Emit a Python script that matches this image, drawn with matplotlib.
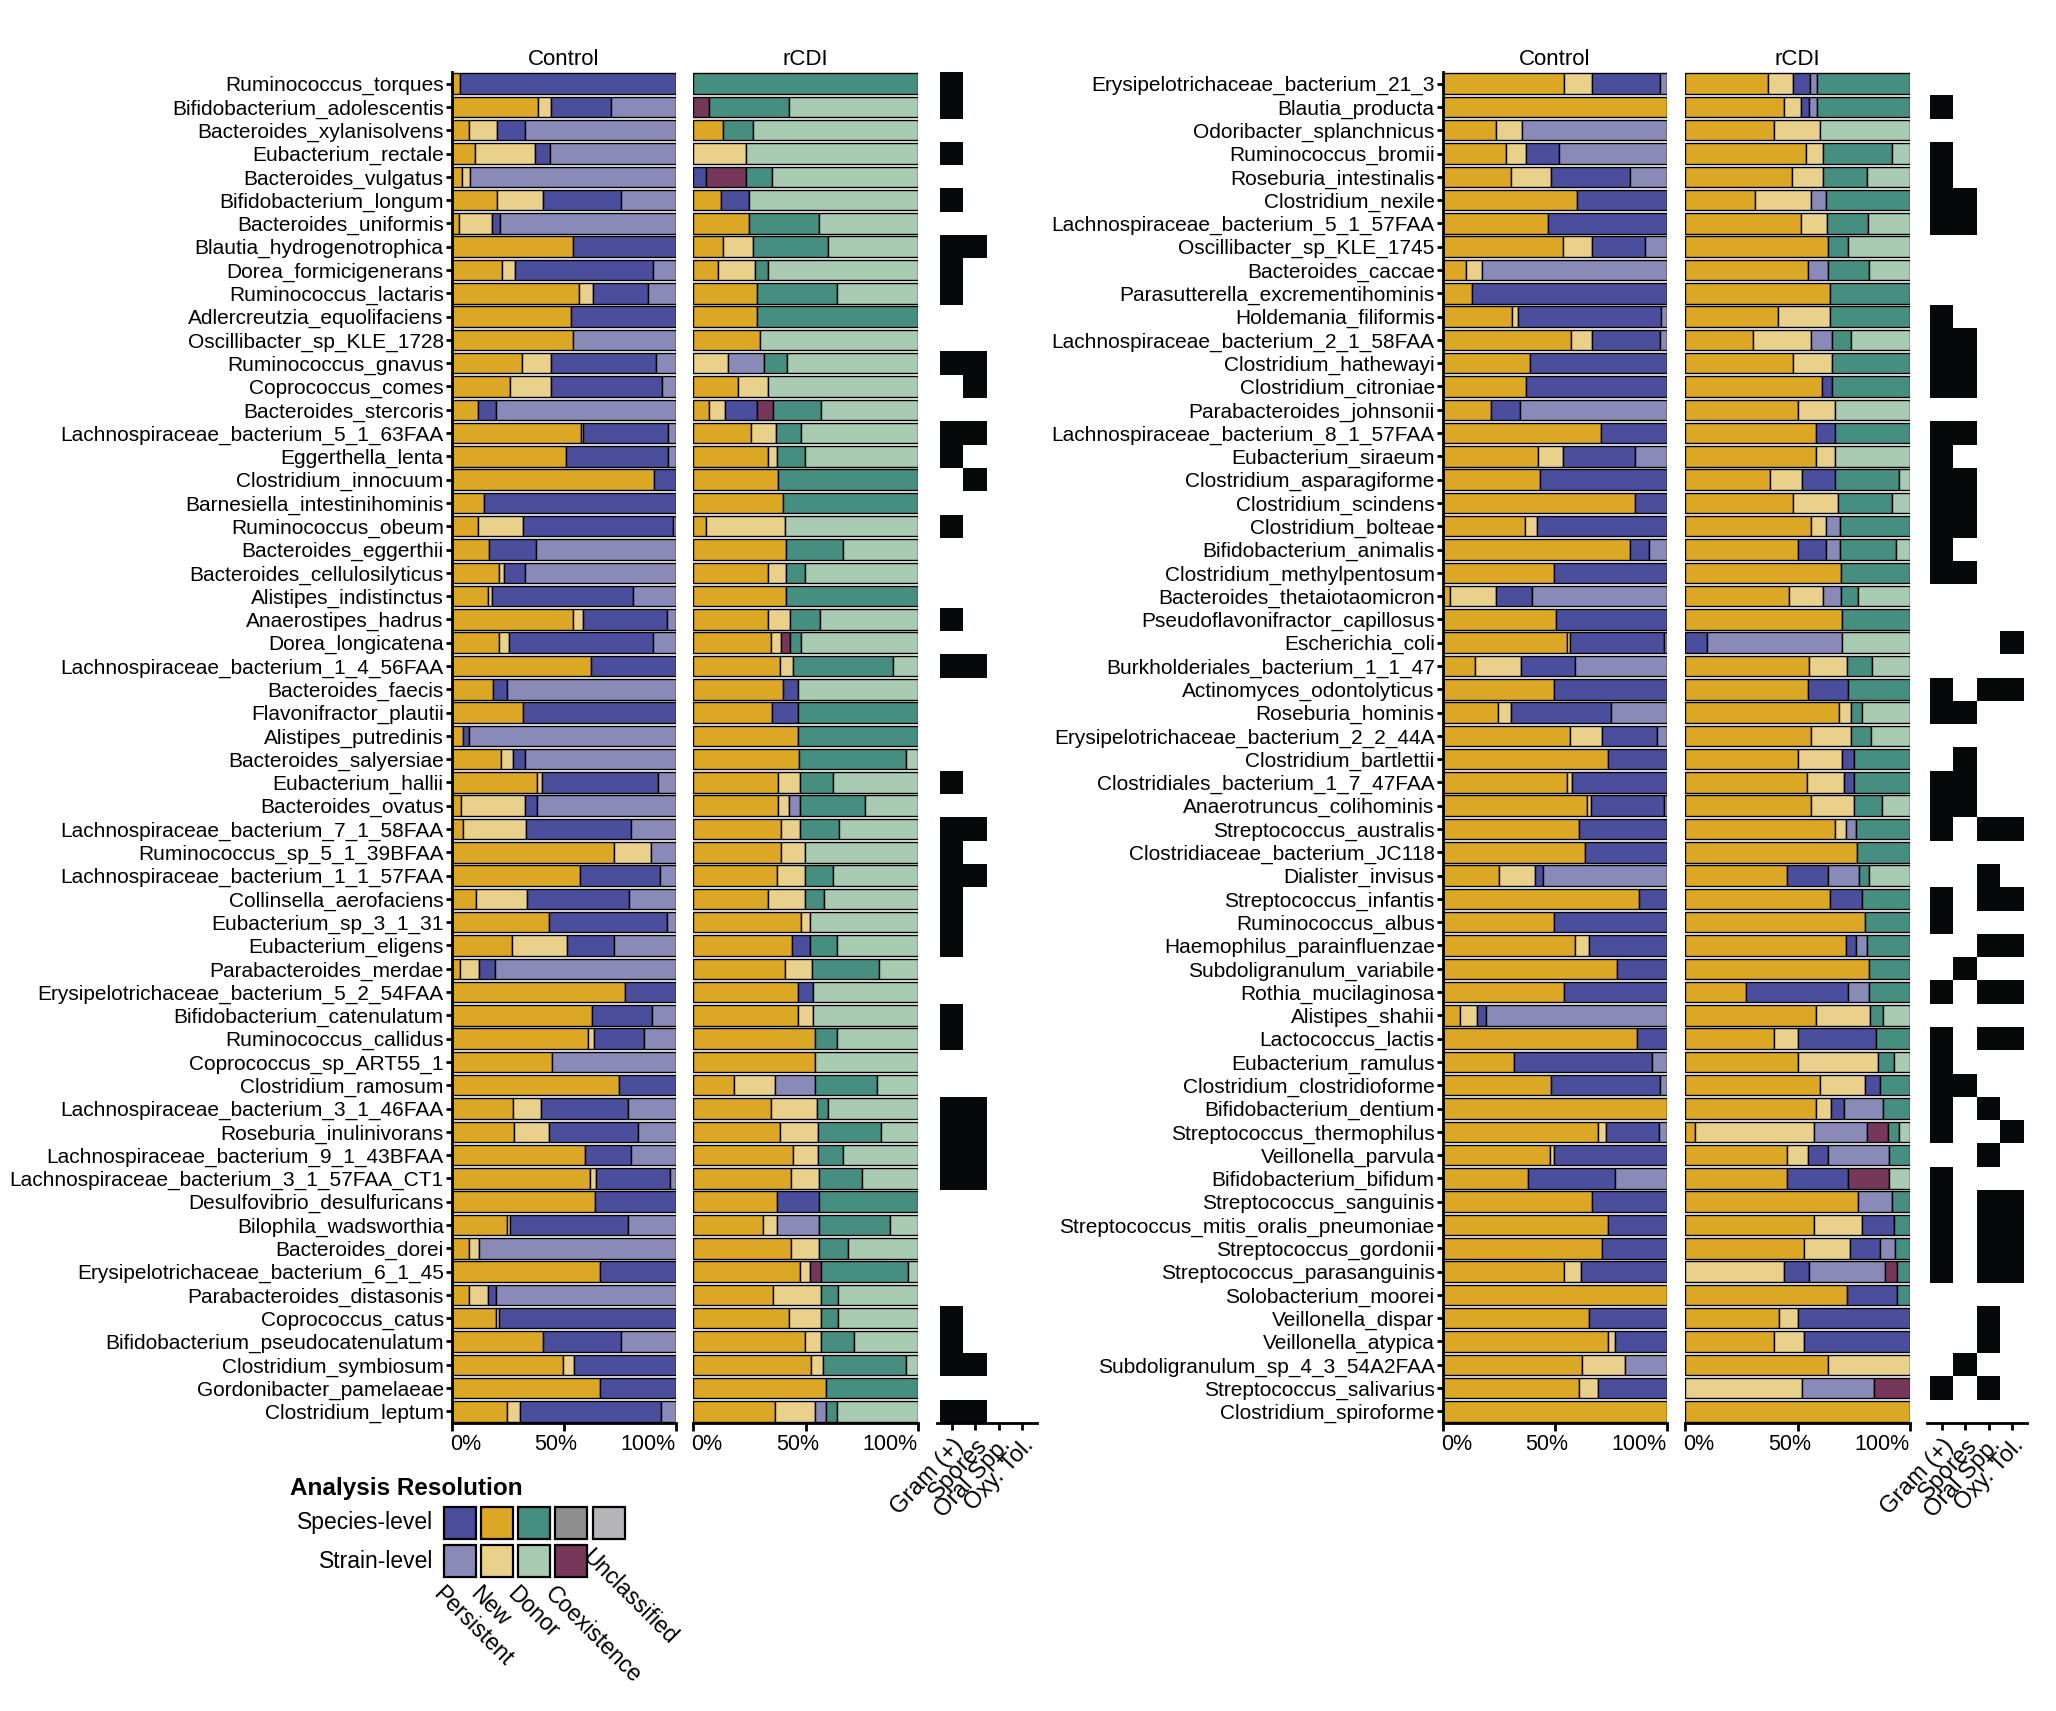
import numpy as np
import matplotlib
matplotlib.use("Agg")
import matplotlib.pyplot as plt
from matplotlib.colors import ListedColormap
from matplotlib.patches import Rectangle
from matplotlib.transforms import ScaledTranslation

plt.rcParams["font.family"] = ["Liberation Sans", "DejaVu Sans"]

# segment order in every bar (left -> right)
control_segments = ["New", "New (strain)", "Persistent", "Persistent (strain)"]
rcdi_segments = ["New", "New (strain)", "Persistent", "Persistent (strain)",
                 "Coexistence (strain)", "Donor", "Donor (strain)"]
heat_cols = ["Gram (+)", "Spores", "Oral Spp.", "Oxy. Tol."]

left_names = [
    "Ruminococcus_torques", "Bifidobacterium_adolescentis", "Bacteroides_xylanisolvens",
    "Eubacterium_rectale", "Bacteroides_vulgatus", "Bifidobacterium_longum",
    "Bacteroides_uniformis", "Blautia_hydrogenotrophica", "Dorea_formicigenerans",
    "Ruminococcus_lactaris", "Adlercreutzia_equolifaciens", "Oscillibacter_sp_KLE_1728",
    "Ruminococcus_gnavus", "Coprococcus_comes", "Bacteroides_stercoris",
    "Lachnospiraceae_bacterium_5_1_63FAA", "Eggerthella_lenta", "Clostridium_innocuum",
    "Barnesiella_intestinihominis", "Ruminococcus_obeum", "Bacteroides_eggerthii",
    "Bacteroides_cellulosilyticus", "Alistipes_indistinctus", "Anaerostipes_hadrus",
    "Dorea_longicatena", "Lachnospiraceae_bacterium_1_4_56FAA", "Bacteroides_faecis",
    "Flavonifractor_plautii", "Alistipes_putredinis", "Bacteroides_salyersiae",
    "Eubacterium_hallii", "Bacteroides_ovatus", "Lachnospiraceae_bacterium_7_1_58FAA",
    "Ruminococcus_sp_5_1_39BFAA", "Lachnospiraceae_bacterium_1_1_57FAA",
    "Collinsella_aerofaciens", "Eubacterium_sp_3_1_31", "Eubacterium_eligens",
    "Parabacteroides_merdae", "Erysipelotrichaceae_bacterium_5_2_54FAA",
    "Bifidobacterium_catenulatum", "Ruminococcus_callidus", "Coprococcus_sp_ART55_1",
    "Clostridium_ramosum", "Lachnospiraceae_bacterium_3_1_46FAA", "Roseburia_inulinivorans",
    "Lachnospiraceae_bacterium_9_1_43BFAA", "Lachnospiraceae_bacterium_3_1_57FAA_CT1",
    "Desulfovibrio_desulfuricans", "Bilophila_wadsworthia", "Bacteroides_dorei",
    "Erysipelotrichaceae_bacterium_6_1_45", "Parabacteroides_distasonis",
    "Coprococcus_catus", "Bifidobacterium_pseudocatenulatum", "Clostridium_symbiosum",
    "Gordonibacter_pamelaeae", "Clostridium_leptum",
]

left_control = [
    (3.5, 0, 96.5, 0), (38.4, 5.9, 26.9, 28.8), (7.5, 12.5, 12.6, 67.4),
    (10.4, 26.7, 6.7, 56.2), (4.5, 3.7, 0, 91.8), (20.2, 20.5, 34.7, 24.6),
    (3.0, 14.9, 3.7, 78.4), (54.1, 0, 45.9, 0), (22.4, 5.8, 61.4, 10.4),
    (56.8, 6.2, 24.3, 12.7), (53.3, 0, 46.7, 0), (54.1, 0, 0, 45.9),
    (31.4, 13.0, 46.6, 9.0), (25.9, 18.4, 49.3, 6.4), (11.5, 0, 8.2, 80.3),
    (57.4, 1.1, 38.1, 3.4), (51.0, 0, 45.6, 3.4), (90.4, 0, 9.6, 0),
    (14.2, 0, 85.8, 0), (11.5, 20.2, 67.0, 1.3), (16.5, 0, 21.1, 62.4),
    (21.0, 2.2, 9.4, 67.4), (16.0, 1.9, 63.0, 19.1), (54.1, 4.2, 37.6, 4.1),
    (21.0, 4.5, 64.2, 10.3), (62.2, 0, 37.8, 0), (18.2, 0, 6.2, 75.6),
    (31.7, 0, 68.3, 0), (4.8, 0, 2.7, 92.5), (21.9, 5.3, 5.4, 67.4),
    (38.1, 2.2, 51.8, 7.9), (4.0, 28.6, 5.4, 62.0), (4.8, 28.3, 47.0, 19.9),
    (72.2, 16.5, 0, 11.3), (57.3, 0, 35.4, 7.3), (10.7, 22.9, 45.6, 20.8),
    (43.4, 0, 52.5, 4.1), (26.9, 24.6, 20.6, 27.9), (3.5, 8.5, 7.2, 80.8),
    (77.4, 0, 22.6, 0), (62.7, 0, 26.4, 10.9), (60.8, 2.7, 22.4, 14.1),
    (44.8, 0, 0, 55.2), (74.7, 0, 25.3, 0), (27.2, 12.6, 38.9, 21.3),
    (27.7, 15.7, 39.5, 17.1), (59.5, 0, 20.2, 20.3), (61.8, 2.7, 32.6, 2.9),
    (64.0, 0, 36.0, 0), (24.6, 1.3, 52.8, 21.3), (7.5, 4.5, 0, 88.0),
    (66.2, 0, 33.8, 0), (7.5, 8.5, 3.7, 80.3), (19.7, 1.3, 79.0, 0),
    (40.6, 0, 35.0, 24.4), (49.6, 5.0, 45.4, 0), (66.2, 0, 33.8, 0),
    (24.6, 5.8, 62.7, 6.9),
]

left_rcdi = [
    (0, 0, 0, 0, 0, 100, 0), (0, 0, 0, 0, 7.2, 35.6, 57.2), (13.2, 0, 0, 0, 0, 13.4, 73.4),
    (0, 23.6, 0, 0, 0, 0, 76.4), (0, 0, 5.9, 0, 17.7, 11.6, 64.8), (12.4, 0, 12.6, 0, 0, 0, 75.0),
    (24.9, 0, 0, 0, 0, 31.3, 43.8), (13.2, 13.4, 0, 0, 0, 33.2, 40.2), (11.0, 16.7, 0, 0, 0, 5.7, 66.6),
    (28.5, 0, 0, 0, 0, 35.7, 35.8), (28.5, 0, 0, 0, 0, 71.5, 0), (29.8, 0, 0, 0, 0, 0, 70.2),
    (0, 15.5, 0, 16.1, 0, 10.2, 58.2), (19.9, 13.4, 0, 0, 0, 0, 66.7), (7.0, 7.2, 14.2, 0, 7.2, 21.5, 42.9),
    (25.8, 11.2, 0, 0, 0, 11.2, 51.8), (33.3, 4.1, 0, 0, 0, 12.4, 50.2), (37.8, 0, 0, 0, 0, 62.2, 0),
    (40.0, 0, 0, 0, 0, 60.0, 0), (5.7, 35.2, 0, 0, 0, 0, 59.1), (41.5, 0, 0, 0, 0, 25.0, 33.5),
    (33.3, 8.1, 0, 0, 0, 8.5, 50.1), (41.5, 0, 0, 0, 0, 58.5, 0), (33.3, 9.9, 0, 0, 0, 13.4, 43.4),
    (34.8, 4.5, 0, 0, 4.0, 4.5, 52.2), (38.8, 5.7, 0, 0, 0, 44.3, 11.2), (40.0, 0, 6.7, 0, 0, 0, 53.3),
    (35.2, 0, 11.5, 0, 0, 53.3, 0), (46.7, 0, 0, 0, 0, 53.3, 0), (47.2, 0, 0, 0, 0, 47.4, 5.4),
    (37.8, 9.9, 0, 0, 0, 14.4, 37.9), (37.8, 4.9, 0, 4.9, 0, 28.7, 23.7), (39.2, 8.5, 0, 0, 0, 17.4, 34.9),
    (39.2, 10.7, 0, 0, 0, 0, 50.1), (37.5, 12.4, 0, 0, 0, 12.4, 37.7), (33.3, 16.6, 0, 0, 0, 8.5, 41.6),
    (48.2, 4.0, 0, 0, 0, 0, 47.8), (44.2, 0, 8.0, 0, 0, 11.6, 36.2), (41.0, 12.1, 0, 0, 0, 29.5, 17.4),
    (46.7, 0, 6.7, 0, 0, 0, 46.6), (46.7, 6.7, 0, 0, 0, 0, 46.6), (54.4, 0, 0, 0, 0, 9.4, 36.2),
    (54.4, 0, 0, 0, 0, 0, 45.6), (18.2, 18.3, 0, 17.9, 0, 27.3, 18.3), (34.8, 20.1, 0, 0, 0, 4.9, 40.2),
    (38.8, 16.9, 0, 0, 0, 27.8, 16.5), (44.5, 11.2, 0, 0, 0, 10.8, 33.5), (43.7, 12.4, 0, 0, 0, 18.8, 25.1),
    (37.5, 0, 18.7, 0, 0, 43.8, 0), (31.3, 6.2, 0, 18.7, 0, 31.3, 12.5), (43.7, 12.4, 0, 0, 0, 12.6, 31.3),
    (47.7, 4.5, 0, 0, 4.5, 38.9, 4.4), (35.6, 21.5, 0, 0, 0, 7.2, 35.7), (42.7, 14.4, 0, 0, 0, 7.2, 35.7),
    (49.9, 7.2, 0, 0, 0, 14.4, 28.5), (52.6, 5.3, 0, 0, 0, 36.7, 5.4), (58.9, 0, 0, 0, 0, 41.1, 0),
    (36.5, 17.9, 0, 4.5, 0, 4.9, 36.2),
]

# row numbers (1-based) with a black cell, per trait column
left_gram = [1, 2, 4, 6, 8, 9, 10, 13, 16, 17, 20, 24, 26, 31, 33, 34, 35, 36, 37, 38,
             41, 42, 45, 46, 47, 48, 54, 55, 56, 58]
left_spores = [8, 13, 14, 16, 18, 26, 33, 35, 45, 46, 47, 48, 56, 58]
left_oral = []
left_oxy = []

right_names = [
    "Erysipelotrichaceae_bacterium_21_3", "Blautia_producta", "Odoribacter_splanchnicus",
    "Ruminococcus_bromii", "Roseburia_intestinalis", "Clostridium_nexile",
    "Lachnospiraceae_bacterium_5_1_57FAA", "Oscillibacter_sp_KLE_1745", "Bacteroides_caccae",
    "Parasutterella_excrementihominis", "Holdemania_filiformis",
    "Lachnospiraceae_bacterium_2_1_58FAA", "Clostridium_hathewayi", "Clostridium_citroniae",
    "Parabacteroides_johnsonii", "Lachnospiraceae_bacterium_8_1_57FAA", "Eubacterium_siraeum",
    "Clostridium_asparagiforme", "Clostridium_scindens", "Clostridium_bolteae",
    "Bifidobacterium_animalis", "Clostridium_methylpentosum", "Bacteroides_thetaiotaomicron",
    "Pseudoflavonifractor_capillosus", "Escherichia_coli", "Burkholderiales_bacterium_1_1_47",
    "Actinomyces_odontolyticus", "Roseburia_hominis", "Erysipelotrichaceae_bacterium_2_2_44A",
    "Clostridium_bartlettii", "Clostridiales_bacterium_1_7_47FAA", "Anaerotruncus_colihominis",
    "Streptococcus_australis", "Clostridiaceae_bacterium_JC118", "Dialister_invisus",
    "Streptococcus_infantis", "Ruminococcus_albus", "Haemophilus_parainfluenzae",
    "Subdoligranulum_variabile", "Rothia_mucilaginosa", "Alistipes_shahii", "Lactococcus_lactis",
    "Eubacterium_ramulus", "Clostridium_clostridioforme", "Bifidobacterium_dentium",
    "Streptococcus_thermophilus", "Veillonella_parvula", "Bifidobacterium_bifidum",
    "Streptococcus_sanguinis", "Streptococcus_mitis_oralis_pneumoniae", "Streptococcus_gordonii",
    "Streptococcus_parasanguinis", "Solobacterium_moorei", "Veillonella_dispar",
    "Veillonella_atypica", "Subdoligranulum_sp_4_3_54A2FAA", "Streptococcus_salivarius",
    "Clostridium_spiroforme",
]

right_control = [
    (54.2, 12.5, 30.2, 3.1), (100, 0, 0, 0), (23.6, 11.6, 0, 64.8), (28.1, 9.0, 14.9, 48.0),
    (30.3, 18.0, 35.0, 16.7), (60.0, 0, 40.0, 0), (47.0, 0, 53.0, 0), (53.4, 13.3, 23.4, 9.9),
    (10.1, 7.3, 0, 82.6), (12.8, 0, 87.2, 0), (30.8, 2.6, 63.8, 2.8), (57.2, 9.5, 30.2, 3.1),
    (38.8, 0, 61.2, 0), (37.1, 0, 62.9, 0), (21.3, 0, 13.0, 65.7), (70.7, 0, 29.3, 0),
    (42.5, 10.9, 32.2, 14.4), (43.3, 0, 56.7, 0), (85.6, 0, 14.4, 0), (36.6, 5.4, 58.0, 0),
    (83.4, 0, 8.5, 8.1), (49.6, 0, 50.4, 0), (3.3, 20.3, 16.1, 60.3), (50.4, 0, 49.6, 0),
    (55.5, 1.4, 41.8, 1.3), (14.2, 20.6, 24.3, 40.9), (49.6, 0, 50.4, 0), (24.6, 5.7, 44.5, 25.2),
    (56.8, 14.4, 24.3, 4.5), (73.5, 0, 26.5, 0), (55.5, 2.3, 42.2, 0), (64.5, 1.4, 32.8, 1.3),
    (60.8, 0, 39.2, 0), (63.6, 0, 36.4, 0), (25.0, 16.1, 3.6, 55.3), (87.3, 0, 12.7, 0),
    (49.6, 0, 50.4, 0), (59.1, 6.2, 34.7, 0), (77.5, 0, 22.5, 0), (54.1, 0, 45.9, 0),
    (7.5, 7.6, 4.0, 80.9), (86.5, 0, 13.5, 0), (31.7, 0, 61.5, 6.8), (48.2, 0, 48.7, 3.1),
    (100, 0, 0, 0), (69.0, 3.6, 23.7, 3.7), (47.8, 1.7, 50.5, 0), (38.0, 0, 38.6, 23.4),
    (66.7, 0, 33.3, 0), (73.8, 0, 26.2, 0), (71.2, 0, 28.8, 0), (54.1, 7.6, 38.3, 0),
    (100, 0, 0, 0), (65.3, 0, 34.7, 0), (73.5, 3.1, 23.4, 0), (62.2, 18.9, 0, 18.9),
    (60.8, 8.5, 30.7, 0), (100, 0, 0, 0),
]

right_rcdi = [
    (37.1, 10.7, 7.6, 3.4, 0, 41.2, 0), (44.1, 7.6, 3.6, 3.4, 0, 41.3, 0), (39.7, 20.2, 0, 0, 0, 0, 40.1),
    (53.6, 7.6, 0, 0, 0, 30.9, 7.9), (47.4, 14.1, 0, 0, 0, 19.3, 19.2), (31.2, 25.0, 0, 6.4, 0, 37.4, 0),
    (51.7, 11.4, 0, 0, 0, 18.3, 18.6), (63.4, 0, 0, 0, 0, 9.0, 27.6), (54.5, 0, 0, 9.0, 0, 18.3, 18.2),
    (64.3, 0, 0, 0, 0, 35.7, 0), (41.2, 23.1, 0, 0, 0, 35.7, 0), (30.3, 25.9, 0, 9.1, 0, 8.4, 26.3),
    (47.8, 17.6, 0, 0, 0, 34.6, 0), (60.9, 0, 4.5, 0, 0, 34.6, 0), (50.0, 16.6, 0, 0, 0, 0, 33.4),
    (58.1, 0, 8.4, 0, 0, 33.5, 0), (58.1, 8.4, 0, 0, 0, 0, 33.5), (37.9, 14.3, 14.3, 0, 0, 28.6, 4.9),
    (47.8, 20.2, 0, 0, 0, 24.1, 7.9), (56.2, 6.4, 0, 6.2, 0, 31.2, 0), (50.0, 0, 12.6, 6.2, 0, 25.0, 6.2),
    (69.3, 0, 0, 0, 0, 30.7, 0), (46.0, 15.2, 0, 8.1, 0, 7.6, 23.1), (69.7, 0, 0, 0, 0, 30.3, 0),
    (0, 0, 9.8, 59.8, 0, 0, 30.4), (55.3, 16.6, 0, 0, 0, 11.2, 16.9), (54.5, 0, 17.9, 0, 0, 27.6, 0),
    (68.4, 5.3, 0, 0, 0, 4.8, 21.5), (56.2, 17.6, 0, 0, 0, 8.8, 17.4), (50.0, 19.7, 5.3, 0, 0, 25.0, 0),
    (54.0, 16.7, 4.3, 0, 0, 25.0, 0), (56.2, 18.8, 0, 0, 0, 12.6, 12.4), (66.6, 5.0, 0, 4.5, 0, 23.9, 0),
    (76.4, 0, 0, 0, 0, 23.6, 0), (45.2, 0, 18.3, 13.8, 0, 4.5, 18.2), (64.3, 0, 14.3, 0, 0, 21.4, 0),
    (80.0, 0, 0, 0, 0, 20.0, 0), (71.6, 0, 4.5, 4.8, 0, 19.1, 0), (81.7, 0, 0, 0, 0, 18.3, 0),
    (27.2, 0, 45.2, 9.3, 0, 18.3, 0), (58.4, 23.8, 0, 0, 0, 5.7, 12.1), (39.7, 10.3, 34.8, 0, 0, 15.2, 0),
    (50.0, 35.7, 0, 0, 0, 7.2, 7.1), (59.8, 20.2, 6.7, 0, 0, 13.3, 0), (58.4, 6.4, 5.7, 17.4, 0, 12.1, 0),
    (4.5, 52.8, 0, 23.6, 9.3, 5.0, 4.8), (45.2, 9.3, 9.0, 27.2, 0, 9.3, 0), (45.2, 0, 27.2, 0, 18.3, 0, 9.3),
    (76.9, 0, 0, 15.2, 0, 7.9, 0), (57.2, 21.4, 14.3, 0, 0, 7.1, 0), (53.1, 20.2, 13.4, 6.6, 0, 6.7, 0),
    (0, 44.1, 11.2, 33.4, 5.5, 5.8, 0), (71.9, 0, 22.4, 0, 0, 5.7, 0), (41.6, 8.4, 50.0, 0, 0, 0, 0),
    (39.7, 13.4, 46.9, 0, 0, 0, 0), (63.4, 36.6, 0, 0, 0, 0, 0), (0, 52.2, 0, 31.7, 16.1, 0, 0),
    (100, 0, 0, 0, 0, 0, 0),
]

right_gram = [2, 4, 5, 6, 7, 11, 12, 13, 14, 16, 17, 18, 19, 20, 21, 22, 27, 28, 31, 32, 33,
              36, 37, 40, 42, 43, 44, 45, 46, 48, 49, 50, 51, 52, 57]
right_spores = [6, 7, 12, 13, 14, 16, 18, 19, 20, 22, 28, 30, 31, 32, 39, 44, 56]
right_oral = [27, 33, 35, 36, 38, 40, 42, 45, 47, 49, 50, 51, 52, 54, 55, 57]
right_oxy = [25, 27, 33, 36, 38, 40, 42, 46, 49, 50, 51, 52]

# colours
sp_persistent, st_persistent = "#4B4D9D", "#8A8AB8"
sp_new, st_new = "#DCA725", "#E9D08B"
sp_donor, st_donor = "#468F80", "#A9CBB2"
sp_coex, st_coex = "#8E8E8E", "#77375A"
sp_uncl = "#B5B4B7"
heat_black = "#050909"

seg_colors = {
    "New": sp_new, "New (strain)": st_new,
    "Persistent": sp_persistent, "Persistent (strain)": st_persistent,
    "Coexistence (strain)": st_coex,
    "Donor": sp_donor, "Donor (strain)": st_donor,
}

W, H = 2056, 1711
fig = plt.figure(figsize=(W / 100, H / 100), dpi=100)

TOP, BOT = 72, 1423


def px_axes(x0, x1):
    return fig.add_axes([x0 / W, 1 - BOT / H, (x1 - x0) / W, (BOT - TOP) / H])


def draw_bars(ax, data, segments):
    vals = np.array(data, dtype=float)
    vals = vals / vals.sum(axis=1, keepdims=True) * 100
    y = np.arange(len(vals))
    left = np.zeros(len(vals))
    for j, seg in enumerate(segments):
        w = vals[:, j]
        m = w > 0
        ax.barh(y[m], w[m], left=left[m], height=0.88, color=seg_colors[seg],
                edgecolor="black", linewidth=1.0)
        left += w
    ax.set_xlim(0, 100)
    ax.set_ylim(len(vals) - 0.5, -0.5)
    for s in ["top", "right"]:
        ax.spines[s].set_visible(False)
    ax.spines["bottom"].set_linewidth(2)
    ax.spines["left"].set_linewidth(2)
    ax.set_xticks([0, 50, 100])
    ax.set_xticklabels([])
    ax.tick_params(axis="x", length=6, width=2)
    for xl, lab in zip([6, 46.5, 87.5], ["0%", "50%", "100%"]):
        ax.annotate(lab, xy=(xl, 0), xycoords=("data", "axes fraction"),
                    xytext=(0, -8), textcoords="offset points",
                    ha="center", va="top", fontsize=15.5)


def draw_heat(ax, rows_lists, n):
    mat = np.zeros((n, 4))
    for j, rows in enumerate(rows_lists):
        for r in rows:
            mat[r - 1, j] = 1
    ax.imshow(mat, cmap=ListedColormap(["white", heat_black]), vmin=0, vmax=1,
              aspect="auto", interpolation="nearest", extent=(-0.5, 3.5, n - 0.5, -0.5))
    ax.set_xlim(-0.65, 3.65)
    ax.set_ylim(n - 0.5, -0.5)
    for s in ["top", "right", "left"]:
        ax.spines[s].set_visible(False)
    ax.spines["bottom"].set_linewidth(2)
    ax.set_yticks([])
    ax.set_xticks(range(4))
    labels = ax.set_xticklabels(heat_cols, rotation=47, ha="right", va="top",
                                rotation_mode="anchor", fontsize=17)
    shift = ScaledTranslation(0.07, 0, fig.dpi_scale_trans)
    for lab in labels:
        lab.set_transform(lab.get_transform() + shift)
    ax.tick_params(axis="x", length=5, width=2, pad=3)


panels = [
    (left_names, left_control, left_rcdi, [left_gram, left_spores, left_oral, left_oxy],
     (452, 676), (693, 918), (937, 1037)),
    (right_names, right_control, right_rcdi, [right_gram, right_spores, right_oral, right_oxy],
     (1443, 1667), (1685, 1910), (1927, 2027)),
]

for names, ctrl, rcdi, heat, xc, xr, xh in panels:
    ax_c = px_axes(*xc)
    draw_bars(ax_c, ctrl, control_segments)
    ax_c.set_yticks(range(len(names)))
    ax_c.set_yticklabels(names, fontsize=15)
    ax_c.tick_params(axis="y", length=4, width=2, pad=2)
    ax_c.set_title("Control", fontsize=16, pad=5)

    ax_r = px_axes(*xr)
    draw_bars(ax_r, rcdi, rcdi_segments)
    ax_r.spines["left"].set_visible(False)
    ax_r.set_yticks([])
    ax_r.set_title("rCDI", fontsize=16, pad=5)

    ax_h = px_axes(*xh)
    draw_heat(ax_h, heat, len(names))

# legend drawn in pixel coordinates
lg = fig.add_axes([0, 0, 1, 1])
lg.set_xlim(0, W)
lg.set_ylim(H, 0)
lg.axis("off")
lg.patch.set_alpha(0)

lg.text(290, 1495, "Analysis Resolution", fontsize=17.5, fontweight="bold",
        ha="left", va="baseline")
lg.text(433, 1522, "Species-level", fontsize=16.5, ha="right", va="center")
lg.text(433, 1561, "Strain-level", fontsize=16.5, ha="right", va="center")

species_row = [sp_persistent, sp_new, sp_donor, sp_coex, sp_uncl]
strain_row = [st_persistent, st_new, st_donor, st_coex]
legend_labels = ["Persistent", "New", "Donor", "Coexistence", "Unclassified"]
sq, pitch, x0 = 32, 37.3, 443.5
for i, c in enumerate(species_row):
    lg.add_patch(Rectangle((x0 + i * pitch, 1506.5), sq, sq, facecolor=c,
                           edgecolor="black", linewidth=1.6))
for i, c in enumerate(strain_row):
    lg.add_patch(Rectangle((x0 + i * pitch, 1545), sq, sq, facecolor=c,
                           edgecolor="black", linewidth=1.6))
for i, lab in enumerate(legend_labels):
    ty = 1582 if i < 4 else 1545
    lg.text(x0 + i * pitch + 1, ty, lab, fontsize=16.5, rotation=-45,
            ha="left", va="top", rotation_mode="anchor")

fig.savefig("out.png", dpi=100)
